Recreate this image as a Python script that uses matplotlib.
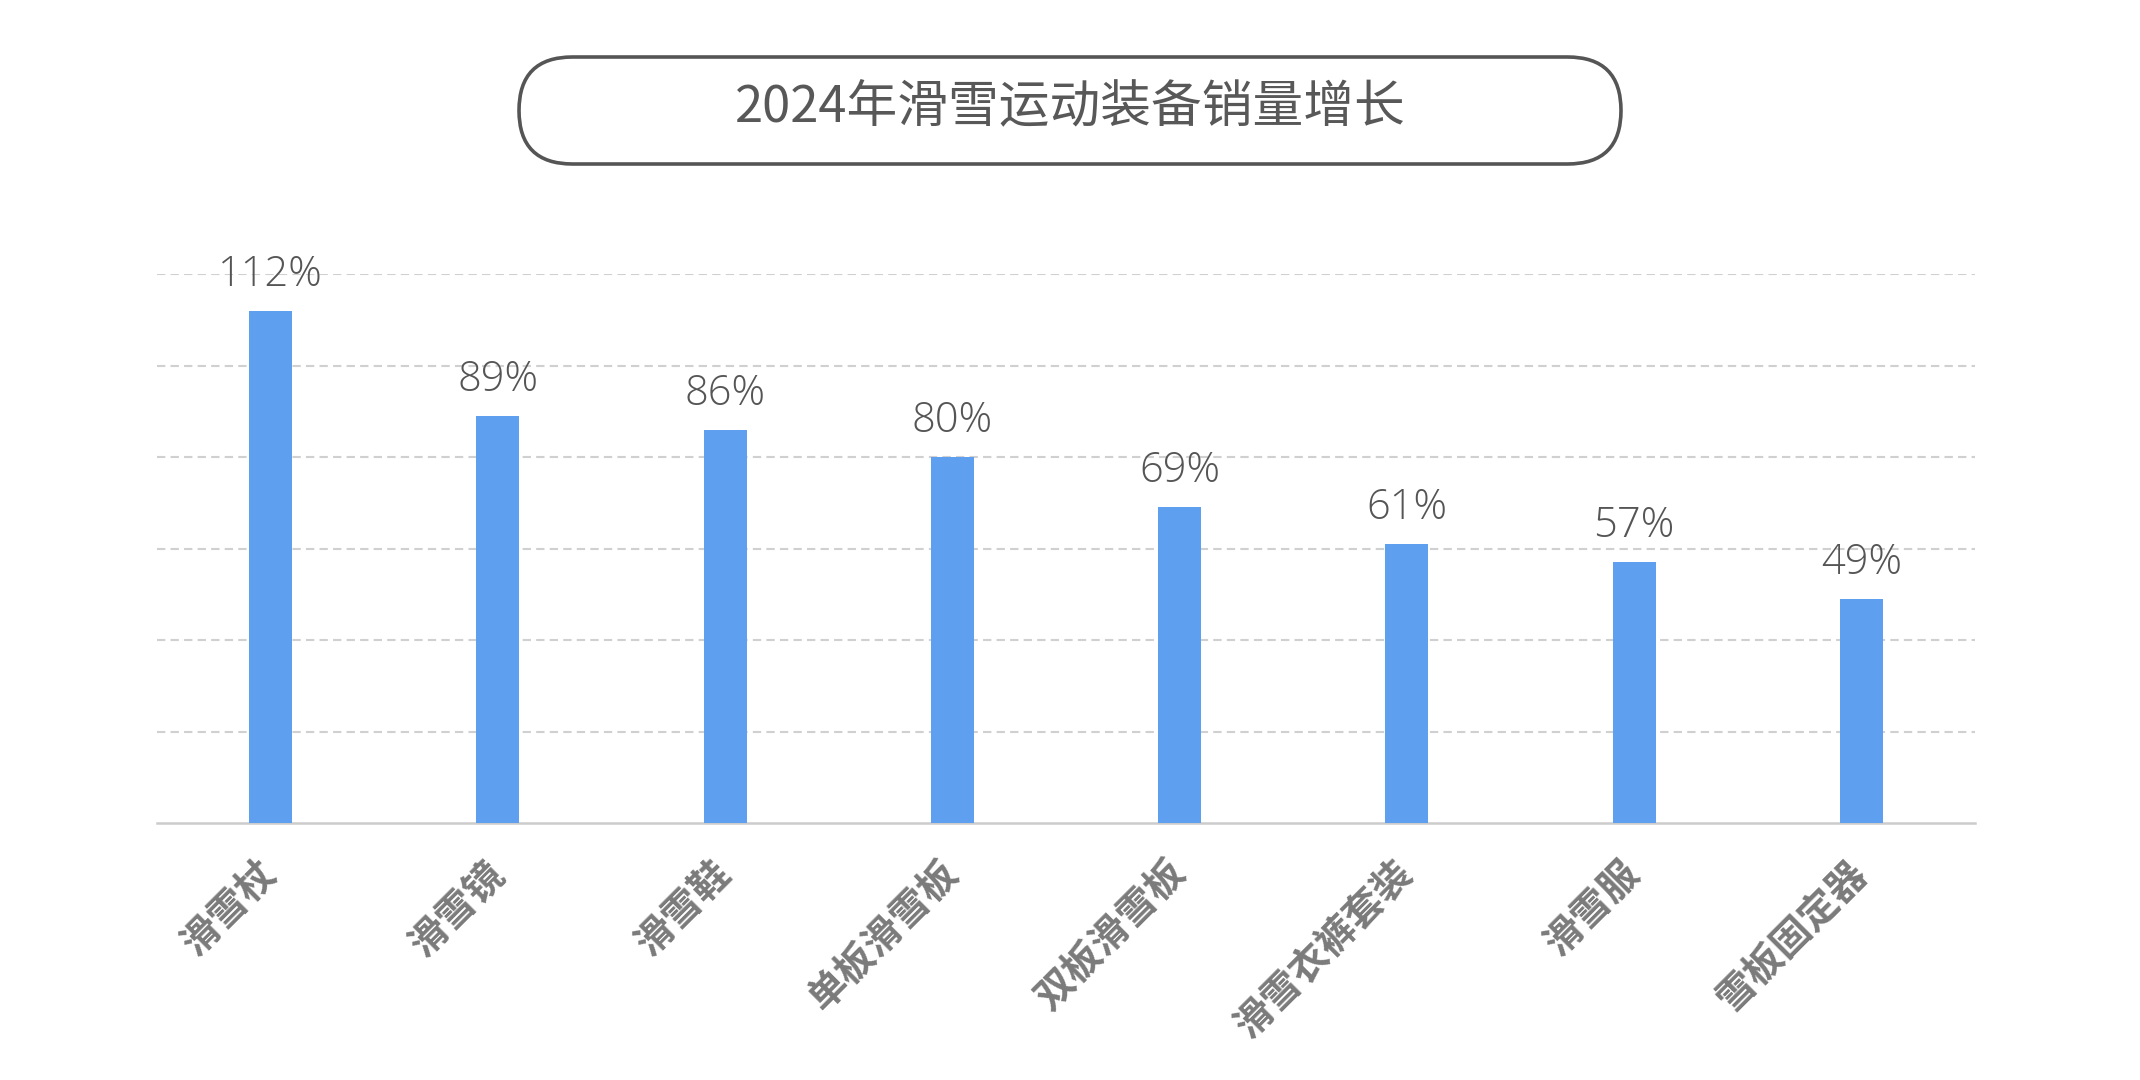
import matplotlib.pyplot as plt
from matplotlib.patches import FancyBboxPatch

# data
categories = ["滑雪杖", "滑雪镜", "滑雪鞋", "单板滑雪板", "双板滑雪板", "滑雪衣裤套装", "滑雪服", "雪板固定器"]
growth = [112, 89, 86, 80, 69, 61, 57, 49]
title = "2024年滑雪运动装备销量增长"

plt.rcParams['font.family'] = ['Noto Sans CJK SC', 'DejaVu Sans']

W, H = 2140, 1080
fig = plt.figure(figsize=(W / 100, H / 100), dpi=100)

# background axes in pixel units for the rounded title box
bg = fig.add_axes([0, 0, 1, 1])
bg.set_xlim(0, W)
bg.set_ylim(0, H)
bg.axis('off')
box_x0, box_x1, box_y0, box_y1 = 519, 1621, 916, 1023
r = (box_y1 - box_y0) / 2
# zero-height box padded by r -> stadium shape
bg.add_patch(FancyBboxPatch((box_x0 + r, box_y0 + r), (box_x1 - box_x0) - 2 * r, 0,
                            boxstyle=f"round,pad={r},rounding_size={r}",
                            fc='white', ec='#555555', lw=2.6))
bg.text(W / 2, (box_y0 + box_y1) / 2 + 2, title, ha='center', va='center',
        fontsize=36.5, color='#585858')

ax = fig.add_axes([157 / W, 257 / H, (1975 - 157) / W, (806 - 257) / H])
ax.set_zorder(2)
ax.patch.set_alpha(0)
x = list(range(len(categories)))
bars = ax.bar(x, growth, width=0.19, color='#5ea0ef', zorder=3)

ax.set_xlim(-0.5, len(categories) - 0.5)
ax.set_ylim(0, 120)
ax.set_yticks(range(20, 121, 20))
ax.tick_params(axis='y', left=False, labelleft=False)
ax.yaxis.grid(True, color='#d0d0d0', linestyle=(0, (4, 2.5)), linewidth=1.5, zorder=0)
ax.set_axisbelow(True)
for s in ['top', 'right', 'left']:
    ax.spines[s].set_visible(False)
ax.spines['bottom'].set_color('#cccccc')
ax.spines['bottom'].set_linewidth(1.8)

ax.set_xticks(x)
ax.set_xticklabels(categories, rotation=45, ha='right', va='center',
                   rotation_mode='anchor', fontsize=28, color='#7a7a7a', fontweight='bold')
ax.tick_params(axis='x', length=0, pad=32)

for b, v in zip(bars, growth):
    ax.annotate(f"{v}%", (b.get_x() + b.get_width() / 2, v), xytext=(0, 18),
                textcoords='offset points', ha='center', va='baseline',
                fontsize=30, color='#555555', fontweight='light',
                family=['Open Sans', 'Noto Sans CJK SC'])

fig.savefig('out.png', dpi=100, facecolor='white')
